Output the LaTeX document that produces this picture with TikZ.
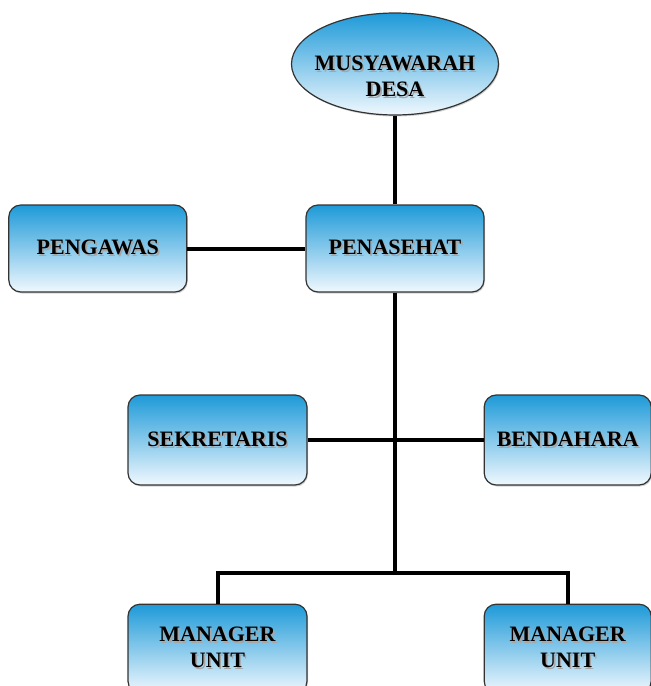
\documentclass[tikz,border=0pt]{standalone}
\usepackage{fontspec}
\setmainfont{Liberation Serif}
\usepackage{tikz}
\usetikzlibrary{positioning}
\usetikzlibrary{shapes.geometric}
\usetikzlibrary{shadows}

\definecolor{biruatas}{HTML}{1E9AD8}
\definecolor{birubawah}{HTML}{F0F8FE}

\newcommand\teksbayang[1]{\makebox[0pt][l]{\kern1.6pt\raisebox{-1.8pt}{\textcolor{black!35}{#1}}}#1}

\tikzset{
  kotak/.style={rectangle, rounded corners=12pt, draw=black!80, line width=1.2pt,
    top color=biruatas, bottom color=birubawah, align=center,
    font=\bfseries\fontsize{22}{26}\selectfont,
    drop shadow={shadow xshift=1pt, shadow yshift=-1.5pt, opacity=.35}},
  garis/.style={line width=4pt, black}
}

\begin{document}
\begin{tikzpicture}[x=1pt, y=1pt]
  \useasboundingbox (0,0) rectangle (651,-686);
  % nodes %
  \node[kotak, minimum width=178pt, minimum height=87pt] (penasehat) at (395,-248.5) {\teksbayang{PENASEHAT}};
  \node[kotak, left=118pt of penasehat, minimum width=178pt, minimum height=87pt] (pengawas) {\teksbayang{PENGAWAS}};
  \node[kotak, ellipse, rounded corners=0pt, minimum width=207pt, minimum height=102pt, inner sep=-12pt,
    label={[align=center, font=\bfseries\fontsize{22}{26}\selectfont, yshift=-13pt]center:\teksbayang{MUSYAWARAH}\\\teksbayang{DESA}}]
    (musdes) at (395,-64) {};
  \node[kotak, minimum width=179pt, minimum height=90pt] (sekretaris) at (217.5,-440) {\teksbayang{SEKRETARIS}};
  \node[kotak, right=176pt of sekretaris, minimum width=167pt, minimum height=90pt] (bendahara) {\teksbayang{BENDAHARA}};
  \node[kotak, below=118pt of sekretaris, minimum width=179pt, minimum height=89pt] (mgrkiri) {\teksbayang{MANAGER}\\\teksbayang{UNIT}};
  \node[kotak, below=118pt of bendahara, minimum width=167pt, minimum height=89pt] (mgrkanan) {\teksbayang{MANAGER}\\\teksbayang{UNIT}};
  \coordinate (cabang) at (395,-573);
  % edges %
  \draw[garis] (musdes) -- (penasehat);
  \draw[garis] (pengawas) -- (penasehat);
  \draw[garis] (penasehat) -- (cabang);
  \draw[garis] (sekretaris) -- (bendahara);
  \draw[garis] (cabang) -| (mgrkiri);
  \draw[garis] (cabang) -| (mgrkanan);
\end{tikzpicture}
\end{document}
